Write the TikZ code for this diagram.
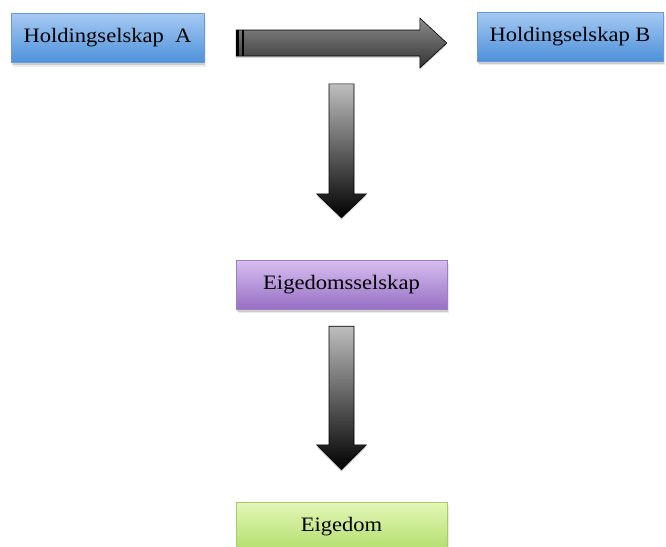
\documentclass[tikz,border=0pt]{standalone}
\usepackage{fontspec}
\setmainfont[FakeStretch=1.1]{Liberation Serif}
\usetikzlibrary{calc,shadows}

\definecolor{blueTop}{RGB}{166,201,243}
\definecolor{blueBot}{RGB}{78,145,218}
\definecolor{blueLine}{RGB}{105,155,212}
\definecolor{purpTop}{RGB}{214,190,240}
\definecolor{purpBot}{RGB}{152,112,196}
\definecolor{purpLine}{RGB}{160,125,200}
\definecolor{grnTop}{RGB}{228,247,184}
\definecolor{grnBot}{RGB}{178,221,108}
\definecolor{grnLine}{RGB}{165,205,105}
\definecolor{arrLight}{RGB}{190,190,190}
\definecolor{arrTop}{RGB}{140,140,140}
\definecolor{arrBot}{RGB}{50,50,50}

\begin{document}
\begin{tikzpicture}[x=1pt,y=-1pt,
    box/.style={draw=#1Line, line width=0.4pt, top color=#1Top, bottom color=#1Bot,
        minimum height=49pt, inner sep=0pt, font=\fontsize{20.5}{24}\selectfont,
        drop shadow={shadow xshift=1.5pt, shadow yshift=-4pt, opacity=0.08, fill=black},
        drop shadow={shadow xshift=1pt, shadow yshift=-2.5pt, opacity=0.12, fill=black}},
    blockarr/.style={draw=black, line width=0.6pt, line join=miter,
        drop shadow={shadow xshift=0pt, shadow yshift=-2pt, opacity=0.15, fill=black}}]

    \useasboundingbox (0,0) rectangle (666,546);

    % boxes
    \node[box=blue, minimum width=193pt] (hA) at (107.5,38) {Holdingselskap\ \ A};
    \node[box=blue, minimum width=186pt] (hB) at (570,36.5) {Holdingselskap B};
    \node[box=purp, minimum width=211pt] (eS) at (341.5,284.5) {Eigedomsselskap};
    \node[box=grn, minimum width=211pt] (eG) at (341.5,526.5) {Eigedom};

    % A -> B
    \coordinate (hs) at ($(hA.east)+(32,5)$);
    \coordinate (ht) at ($(hB.west)+(-30,6.5)$);
    \shadedraw[blockarr, top color=arrTop, bottom color=arrBot]
        ($(hs)+(0,-13)$) -- ($(ht)+(-27,-13)$) -- ($(ht)+(-27,-25)$) -- (ht)
        -- ($(ht)+(-27,25)$) -- ($(ht)+(-27,13)$) -- ($(hs)+(0,13)$) -- cycle;
    \fill[black] ($(hs)+(0,-13)$) rectangle ($(hs)+(3,13)$);
    \draw[line width=1.6pt] ($(hs)+(7,-13)$) -- ($(hs)+(7,13)$);

    % down to Eigedomsselskap
    \coordinate (v1t) at ($(eS.north)+(0,-42)$);
    \coordinate (v1s) at ($(v1t)+(0,-134)$);
    \shadedraw[blockarr, top color=arrLight, bottom color=black]
        ($(v1s)+(-12.5,0)$) -- ($(v1t)+(-12.5,-24)$) -- ($(v1t)+(-25,-24)$) -- (v1t)
        -- ($(v1t)+(25,-24)$) -- ($(v1t)+(12.5,-24)$) -- ($(v1s)+(12.5,0)$) -- cycle;

    % down to Eigedom
    \coordinate (v2s) at ($(eS.south)+(0,17)$);
    \coordinate (v2t) at ($(eG.north)+(0,-32)$);
    \shadedraw[blockarr, top color=arrLight, bottom color=black]
        ($(v2s)+(-12.5,0)$) -- ($(v2t)+(-12.5,-25)$) -- ($(v2t)+(-25,-25)$) -- (v2t)
        -- ($(v2t)+(25,-25)$) -- ($(v2t)+(12.5,-25)$) -- ($(v2s)+(12.5,0)$) -- cycle;
\end{tikzpicture}
\end{document}
